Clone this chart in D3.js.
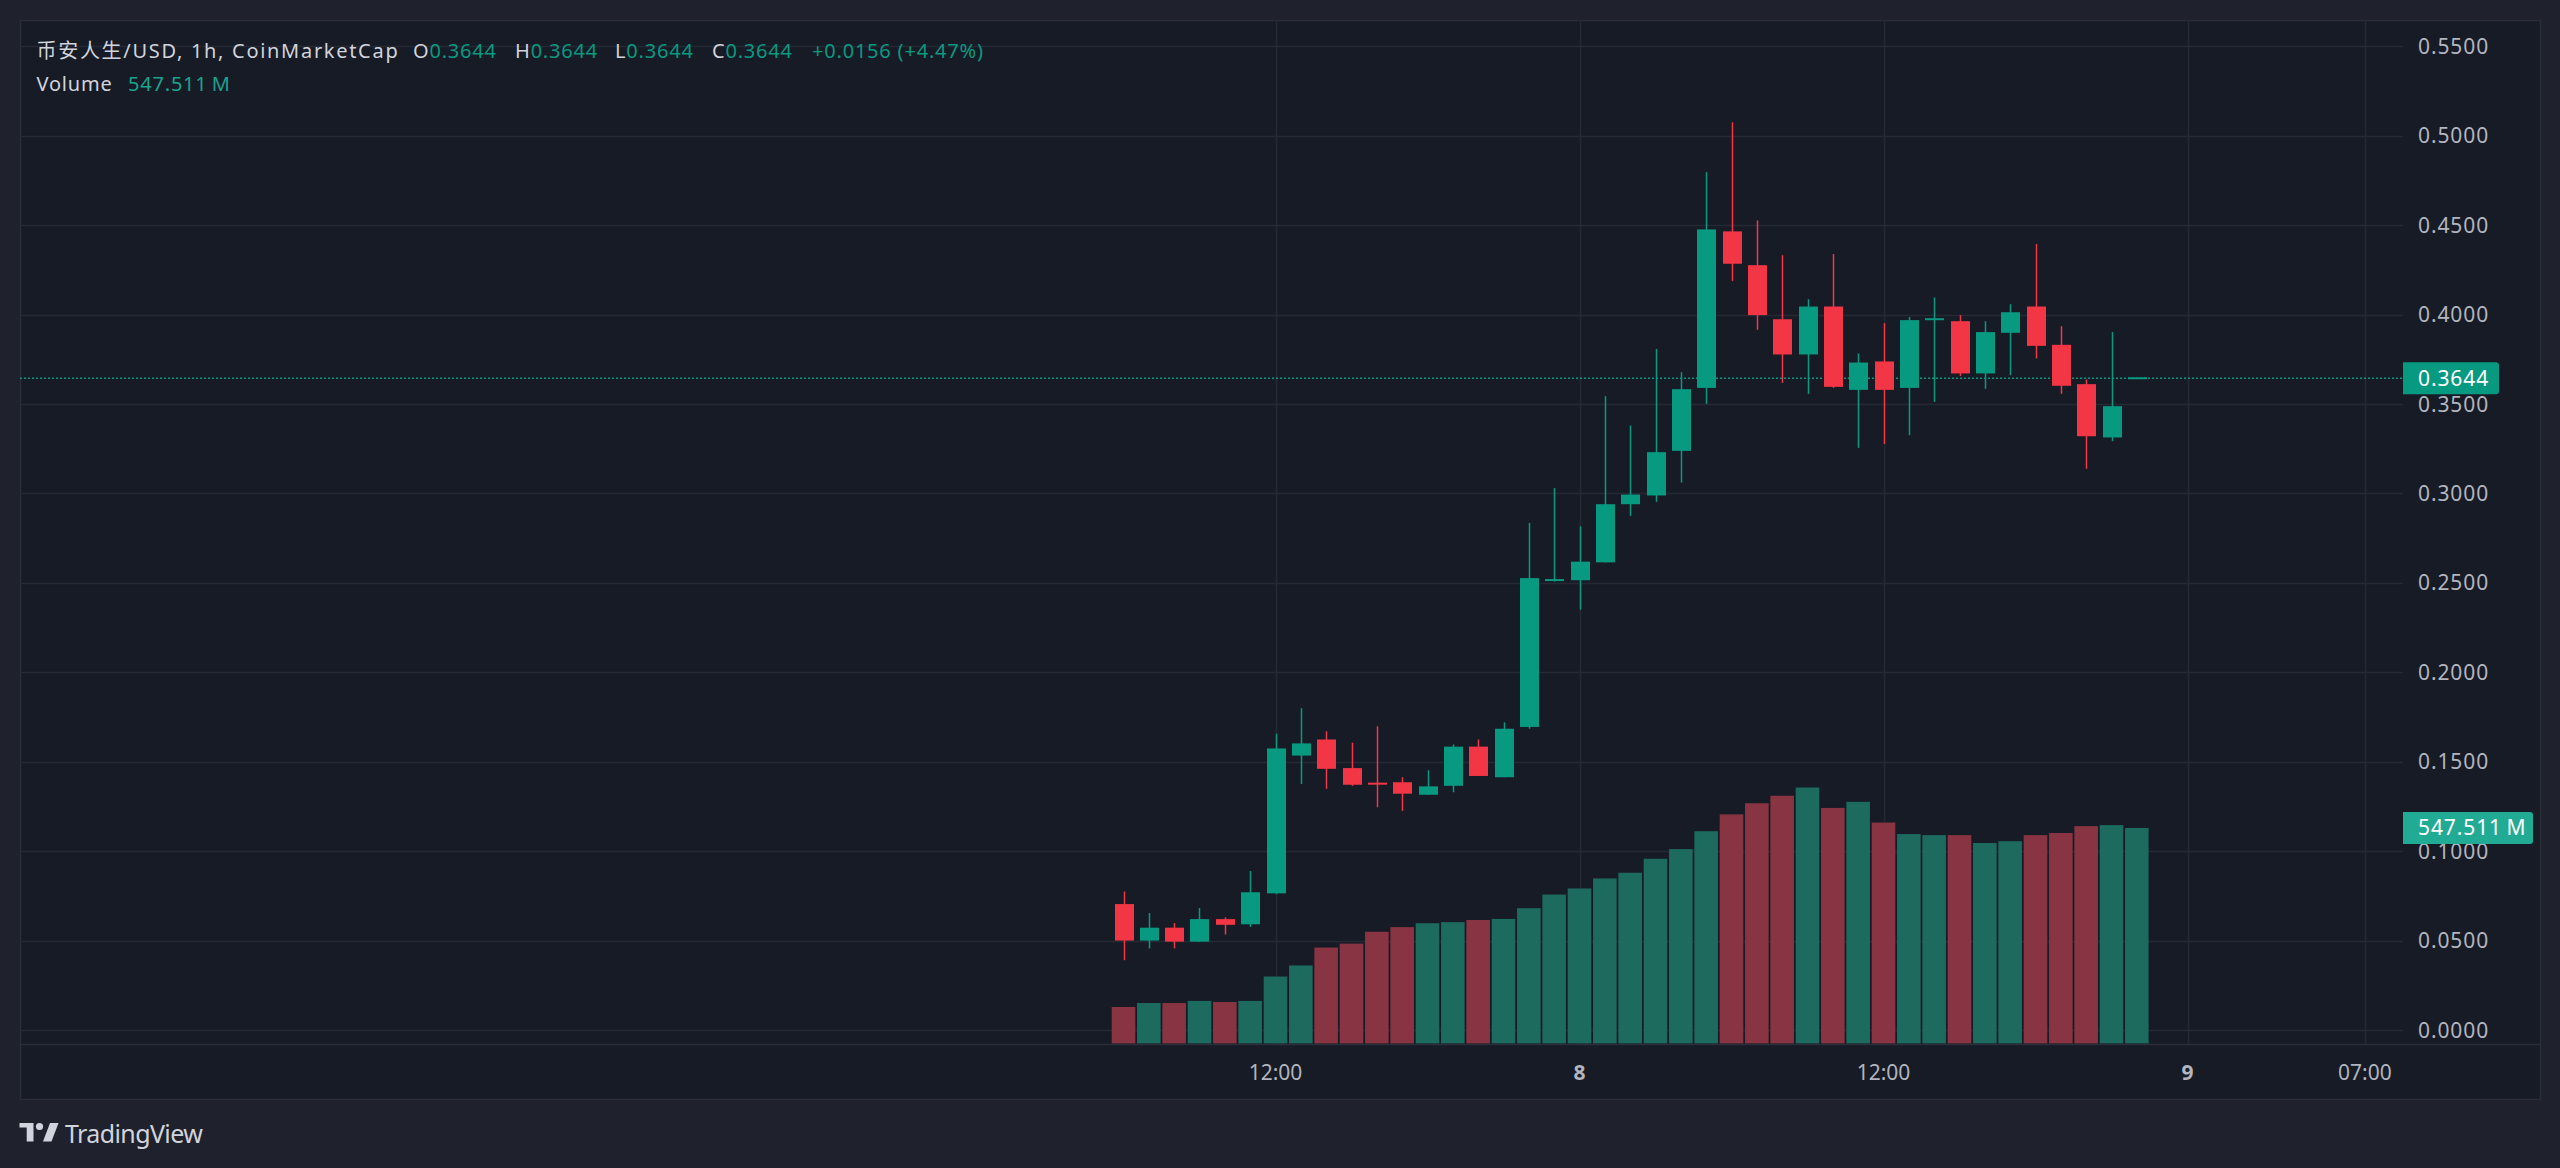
<!DOCTYPE html>
<html>
<head>
<meta charset="utf-8">
<script src="https://cdn.jsdelivr.net/npm/d3@7"></script>
<style>
  body { margin: 0; background: #1f222c; overflow: hidden; }
  text { font-family: "Noto Sans", "Noto Sans CJK SC", sans-serif; }
</style>
</head>
<body>
<div id="chart"></div>
<script>
// hourly candles, first bar 2025-10-07 06:00 UTC
var firstBar = Date.UTC(2025, 9, 7, 6);

var opens = [0.0705, 0.0501, 0.0573, 0.0495, 0.0621, 0.0592, 0.0765, 0.1535, 0.1625, 0.1465,
             0.1378, 0.1386, 0.1316, 0.1366, 0.1585, 0.1414, 0.1695, 0.2510, 0.2515, 0.2615,
             0.2940, 0.2989, 0.3238, 0.3590, 0.4465, 0.4276, 0.3974, 0.3777, 0.4045, 0.3579,
             0.3738, 0.3590, 0.3968, 0.3963, 0.3671, 0.3898, 0.4045, 0.3831, 0.3611, 0.3313,
             0.3644];
var highs = [0.0775, 0.0655, 0.0599, 0.0683, 0.0631, 0.0890, 0.1657, 0.1800, 0.1671, 0.1607,
             0.1699, 0.1414, 0.1453, 0.1597, 0.1625, 0.1721, 0.2835, 0.3030, 0.2817, 0.3544,
             0.3380, 0.3808, 0.3678, 0.4796, 0.5075, 0.4526, 0.4332, 0.4086, 0.4338, 0.3783,
             0.3952, 0.3986, 0.4096, 0.3997, 0.3963, 0.4058, 0.4394, 0.3935, 0.3637, 0.3902,
             0.3644];
var lows = [0.0391, 0.0457, 0.0457, 0.0495, 0.0535, 0.0577, 0.0761, 0.1376, 0.1349, 0.1366,
            0.1246, 0.1226, 0.1316, 0.1330, 0.1421, 0.1414, 0.1685, 0.2508, 0.2350, 0.2615,
            0.2875, 0.2953, 0.3061, 0.3501, 0.4188, 0.3915, 0.3618, 0.3557, 0.3590, 0.3255,
            0.3277, 0.3326, 0.3512, 0.3656, 0.3585, 0.3661, 0.3755, 0.3557, 0.3138, 0.3292,
            0.3644];
var closes = [0.0501, 0.0573, 0.0495, 0.0621, 0.0589, 0.0771, 0.1575, 0.1603, 0.1461, 0.1372,
              0.1372, 0.1322, 0.1363, 0.1585, 0.1421, 0.1685, 0.2527, 0.2516, 0.2619, 0.2940,
              0.2994, 0.3231, 0.3583, 0.4476, 0.4284, 0.3997, 0.3777, 0.4045, 0.3596, 0.3732,
              0.3579, 0.3969, 0.3974, 0.3671, 0.3902, 0.4013, 0.3825, 0.3602, 0.3320, 0.3488,
              0.3644];
// volume in millions
var volumes = [92.8, 102.8, 102.8, 108.2, 105.5, 108.2, 170.1, 198.3, 243.7, 253.7,
               283.8, 295.6, 305.6, 308.3, 313.8, 316.5, 343.8, 378.3, 393.8, 419.3,
               433.8, 469.3, 493.9, 539.3, 582.1, 610.3, 629.4, 650.3, 598.4, 613.9,
               561.2, 532.1, 529.3, 529.3, 509.3, 513.9, 529.3, 534.8, 552.1, 554.8,
               547.511];

var priceTicks = [0, 0.05, 0.1, 0.15, 0.2, 0.25, 0.3, 0.35, 0.4, 0.45, 0.5, 0.55];
var timeTicks = [Date.UTC(2025, 9, 7, 12), Date.UTC(2025, 9, 8, 0), Date.UTC(2025, 9, 8, 12),
                 Date.UTC(2025, 9, 9, 0), Date.UTC(2025, 9, 9, 7)];

var titleText = "币安人生/USD, 1h, CoinMarketCap";
var legendKeys = ["O", "H", "L", "C"];
var legendVals = ["0.3644", "0.3644", "0.3644", "0.3644"];
var changeText = "+0.0156 (+4.47%)";
var lastPrice = 0.3644;
var volumeText = "547.511\u202fM";

var svgWidth = 2560;
var svgHeight = 1168;

// frame / panes
var frame = { left: 20, top: 20, right: 2540, bottom: 1099 };
var paneRight = 2403;
var paneBottom = 1044;

var green = "#089981";
var red = "#f23645";

var svg = d3.select("#chart")
  .append("svg")
  .attr("width", svgWidth)
  .attr("height", svgHeight);

svg.append("rect")
  .attr("x", frame.left + 0.5)
  .attr("y", frame.top + 0.5)
  .attr("width", frame.right - frame.left)
  .attr("height", frame.bottom - frame.top)
  .attr("fill", "#171b26")
  .attr("stroke", "#2a2e39")
  .attr("stroke-width", 1.5);

// scales
var x = d3.scaleUtc()
  .domain([timeTicks[0], timeTicks[3]])
  .range([1275.5, 2187.5]);

var y = d3.scaleLinear()
  .domain([0, 0.55])
  .range([1030.2, 46.2]);

var yVol = d3.scaleLinear()
  .domain([0, d3.max(volumes)])
  .range([paneBottom - 0.5, paneBottom - 0.5 - 0.25 * (paneBottom - frame.top)]);

// grid
var grid = svg.append("g");
grid.selectAll(".hgrid")
  .data(priceTicks)
  .enter()
  .append("line")
  .attr("x1", frame.left)
  .attr("x2", paneRight)
  .attr("y1", d => Math.round(y(d)) + 0.5)
  .attr("y2", d => Math.round(y(d)) + 0.5)
  .attr("stroke", "#252935")
  .attr("stroke-width", 1.5);

grid.selectAll(".vgrid")
  .data(timeTicks)
  .enter()
  .append("line")
  .attr("x1", d => Math.round(x(d)) + 0.5)
  .attr("x2", d => Math.round(x(d)) + 0.5)
  .attr("y1", frame.top)
  .attr("y2", paneBottom)
  .attr("stroke", "#252935")
  .attr("stroke-width", 1.5);

var bars = volumes.map(function(v, i) {
  return {
    t: firstBar + i * 3600 * 1000,
    o: opens[i], h: highs[i], l: lows[i], c: closes[i],
    v: v,
    up: closes[i] >= opens[i]
  };
});

// volume bars
svg.append("g").selectAll("rect")
  .data(bars)
  .enter()
  .append("rect")
  .attr("x", d => x(d.t) - 11.8)
  .attr("width", 23.6)
  .attr("y", d => yVol(d.v))
  .attr("height", d => yVol(0) - yVol(d.v))
  .attr("fill", d => d.up ? "#1d6a5f" : "#893442");

// last price dotted line
svg.append("line")
  .attr("x1", frame.left)
  .attr("x2", paneRight)
  .attr("y1", y(lastPrice))
  .attr("y2", y(lastPrice))
  .attr("stroke", green)
  .attr("stroke-width", 1.5)
  .attr("stroke-dasharray", "2,2");

// candles
var candles = svg.append("g").selectAll("g")
  .data(bars)
  .enter()
  .append("g");

candles.append("line")
  .attr("x1", d => Math.round(x(d.t)) + 0.5)
  .attr("x2", d => Math.round(x(d.t)) + 0.5)
  .attr("y1", d => y(d.h))
  .attr("y2", d => y(d.l))
  .attr("stroke", d => d.up ? green : red)
  .attr("stroke-width", 1.5);

candles.append("rect")
  .attr("x", d => Math.round(x(d.t)) + 0.5 - 9.5)
  .attr("width", 19)
  .attr("y", d => y(Math.max(d.o, d.c)) - (Math.abs(y(d.o) - y(d.c)) < 2 ? 1 : 0))
  .attr("height", d => Math.max(2, Math.abs(y(d.o) - y(d.c))))
  .attr("fill", d => d.up ? green : red);

// separators
svg.append("line")
  .attr("x1", frame.left)
  .attr("x2", frame.right)
  .attr("y1", paneBottom + 0.5)
  .attr("y2", paneBottom + 0.5)
  .attr("stroke", "#2a2e39")
  .attr("stroke-width", 1.5);

// price axis
svg.append("g").selectAll("text")
  .data(priceTicks)
  .enter()
  .append("text")
  .attr("x", 2418)
  .attr("y", d => y(d) + 7.5)
  .attr("fill", "#b2b5be")
  .attr("font-size", "21px")
  .attr("letter-spacing", "0.9px")
  .text(d => d3.format(".4f")(d));

// time axis
svg.append("g").selectAll("text")
  .data(timeTicks)
  .enter()
  .append("text")
  .attr("x", d => x(d))
  .attr("y", 1080)
  .attr("text-anchor", "middle")
  .attr("fill", "#b2b5be")
  .attr("font-size", "21px")
  .attr("font-weight", d => new Date(d).getUTCHours() === 0 ? "bold" : "normal")
  .text(d => new Date(d).getUTCHours() === 0 ? d3.utcFormat("%-d")(d) : d3.utcFormat("%H:%M")(d));

// price and volume labels on the axis
function axisTag(cy, w, fill, label) {
  var h = 32, r = 3, x0 = paneRight;
  svg.append("path")
    .attr("d", `M${x0},${cy - h / 2} H${x0 + w - r} Q${x0 + w},${cy - h / 2} ${x0 + w},${cy - h / 2 + r}
                V${cy + h / 2 - r} Q${x0 + w},${cy + h / 2} ${x0 + w - r},${cy + h / 2} H${x0} Z`)
    .attr("fill", fill);
  svg.append("text")
    .attr("x", 2418)
    .attr("y", cy + 7.5)
    .attr("fill", "#ffffff")
    .attr("font-size", "21px")
    .attr("letter-spacing", "0.9px")
    .text(label);
}
axisTag(y(lastPrice), 96, green, d3.format(".4f")(lastPrice));
axisTag(yVol(volumes[volumes.length - 1]), 130, "#22ab94", volumeText);

// legend
var legend = svg.append("g")
  .attr("font-size", "20px");

legend.append("text")
  .attr("x", 36.5)
  .attr("y", 57.5)
  .attr("fill", "#d1d4dc")
  .attr("letter-spacing", "1.7px")
  .text(titleText);

var keyX = [413, 515, 615, 712];
legendKeys.forEach(function(k, i) {
  var t = legend.append("text")
    .attr("x", keyX[i])
    .attr("y", 57.5)
    .attr("letter-spacing", "0.8px");
  t.append("tspan").attr("fill", "#d1d4dc").text(k);
  t.append("tspan").attr("fill", green).text(legendVals[i]);
});

legend.append("text")
  .attr("x", 812)
  .attr("y", 57.5)
  .attr("fill", green)
  .attr("letter-spacing", "0.8px")
  .text(changeText);

legend.append("text")
  .attr("x", 36.5)
  .attr("y", 91)
  .attr("fill", "#d1d4dc")
  .attr("letter-spacing", "0.8px")
  .text("Volume");

legend.append("text")
  .attr("x", 128)
  .attr("y", 91)
  .attr("fill", "#1ba38d")
  .attr("letter-spacing", "0.8px")
  .text(volumeText);

// TradingView mark
var logo = svg.append("g").attr("fill", "#d1d4dc");
logo.append("path").attr("d", "M19.5,1123 H33.5 V1141.5 H26.7 V1127.5 H19.5 Z");
logo.append("circle").attr("cx", 39.5).attr("cy", 1126.5).attr("r", 3.6);
logo.append("path").attr("d", "M50,1123 H58.5 L51.5,1141.5 H43 Z");
logo.append("text")
  .attr("x", 65)
  .attr("y", 1142.5)
  .attr("font-size", "25px")
  .attr("letter-spacing", "-0.6px")
  .text("TradingView");
</script>
</body>
</html>
